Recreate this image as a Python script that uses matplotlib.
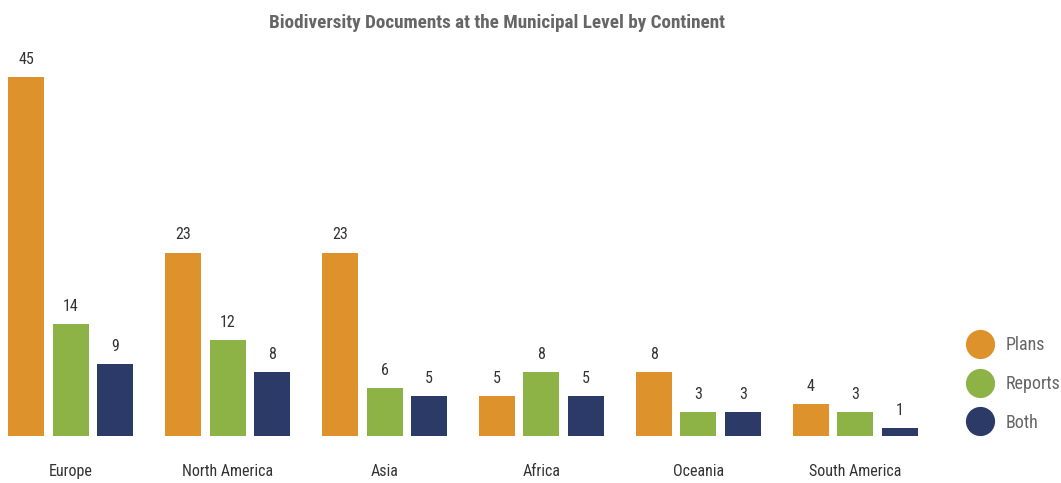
import matplotlib.pyplot as plt
import numpy as np
from matplotlib.lines import Line2D

continents = ["Europe", "North America", "Asia", "Africa", "Oceania", "South America"]
plans = [45, 23, 23, 5, 8, 4]
reports = [14, 12, 6, 8, 3, 3]
both = [9, 8, 5, 5, 3, 1]
series_names = ["Plans", "Reports", "Both"]
colors = ["#DD922B", "#8DB347", "#2B3A66"]

plt.rcParams['font.family'] = ['Roboto Condensed', 'DejaVu Sans']

fig = plt.figure(figsize=(10.61, 4.83), dpi=100)
ax = fig.add_axes([0, 47/483, 926/1061, 390.5/483])

x = np.arange(len(continents))
w = 36/157
off = 44.5/157
for i, (vals, c) in enumerate(zip([plans, reports, both], colors)):
    xs = x + (i - 1) * off
    ax.bar(xs, vals, width=w, color=c)
    for xi, v in zip(xs, vals):
        ax.text(xi, v + 1.3, str(v), ha='center', va='bottom', fontsize=11.5, color='#333333')

ax.set_xlim(-0.45, 5.45)
ax.set_ylim(0, 49)
ax.set_xticks(x)
ax.set_xticklabels(continents, fontsize=11.5, color='#333333')
ax.tick_params(axis='x', length=0, pad=20)
ax.set_yticks([])
for s in ax.spines.values():
    s.set_visible(False)

fig.text(0.468, 0.952, "Biodiversity Documents at the Municipal Level by Continent",
         ha='center', va='center', fontsize=13.8, fontweight='bold', color='#666666')

handles = [Line2D([], [], marker='o', linestyle='', markersize=20, color=c) for c in colors]
fig.legend(handles, series_names, loc='center left', bbox_to_anchor=(0.898, 0.205),
           frameon=False, fontsize=13, labelcolor='#666666', handletextpad=0.85,
           labelspacing=1.15, handlelength=1.2)

fig.savefig("out.png", dpi=100)
